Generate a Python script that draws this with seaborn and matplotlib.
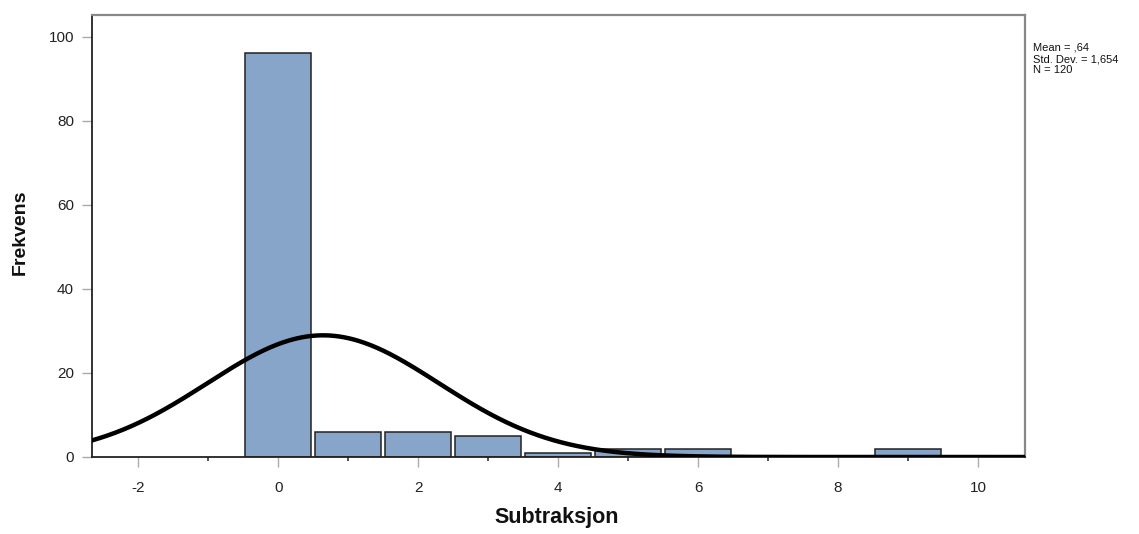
import numpy as np
import pandas as pd
import matplotlib
matplotlib.use("Agg")
import matplotlib.pyplot as plt
import seaborn as sns
from matplotlib.ticker import MultipleLocator

# Frequency table of the subtraction scores
values = [0, 1, 2, 3, 4, 5, 6, 9]
counts = [96, 6, 6, 5, 1, 2, 2, 2]

x_ticks = [-2, 0, 2, 4, 6, 8, 10]
y_ticks = [0, 20, 40, 60, 80, 100]

scores = np.repeat(values, counts)
df = pd.DataFrame({"Subtraksjon": scores})

n = len(scores)
mean = scores.mean()
sd = scores.std(ddof=1)

sns.set_theme(style="white")
plt.rcParams["font.family"] = ["Liberation Sans", "DejaVu Sans"]

W, H = 1139, 534
fig = plt.figure(figsize=(W / 100, H / 100), dpi=100)
ax = fig.add_axes([92 / W, 1 - 457 / H, (1025 - 92) / W, (457 - 14.7) / H])

xlim = (-2.66, 10.67)
bins = np.arange(-0.5, 10.5 + 1, 1)
sns.histplot(data=df, x="Subtraksjon", bins=bins, shrink=0.95, stat="count",
             color="#87A5C9", edgecolor="#222222", linewidth=1.1, alpha=1,
             ax=ax, zorder=2)

# Fitted normal curve, scaled to counts (bin width 1)
grid = np.linspace(xlim[0], xlim[1], 600)
dens = n * np.exp(-0.5 * ((grid - mean) / sd) ** 2) / (sd * np.sqrt(2 * np.pi))
sns.lineplot(x=grid, y=dens, color="black", linewidth=3.2, ax=ax, zorder=3)

ax.set_xlim(*xlim)
ax.set_ylim(0, 105.2)
ax.set_xticks(x_ticks)
ax.set_xticklabels([str(t) for t in x_ticks])
ax.set_yticks(y_ticks)
ax.xaxis.set_minor_locator(MultipleLocator(1))

ax.tick_params(axis="x", which="major", direction="out", length=7, width=1,
               color="#aaaaaa", pad=10, labelsize=11, labelcolor="#222222",
               bottom=True)
ax.tick_params(axis="x", which="minor", direction="out", length=3, width=1.2,
               color="#333333", bottom=True)
ax.tick_params(axis="y", which="major", direction="out", length=7, width=1,
               color="#aaaaaa", pad=6, labelsize=11, labelcolor="#222222",
               left=True)

for side in ("left", "bottom"):
    ax.spines[side].set_color("#222222")
    ax.spines[side].set_linewidth(1.3)
for side in ("top", "right"):
    ax.spines[side].set_visible(True)
    ax.spines[side].set_color("#888888")
    ax.spines[side].set_linewidth(1.6)

ax.set_xlabel("")
ax.set_ylabel("")
fig.text(557 / W, 1 - 517 / H, "Subtraksjon", fontsize=15.5, fontweight="bold",
         ha="center", va="center", color="#111111")
fig.text(20 / W, 1 - 232 / H, "Frekvens", fontsize=14, fontweight="bold",
         ha="center", va="center", rotation=90, color="#111111")

mean_txt = f"{mean:.2f}".replace("0.", ",", 1) if mean < 1 else f"{mean:.2f}".replace(".", ",")
sd_txt = f"{sd:.3f}".replace(".", ",")
stats = f"Mean = {mean_txt}\nStd. Dev. = {sd_txt}\nN = {n}"
fig.text(1033 / W, 1 - 43 / H, stats, fontsize=8, va="top", ha="left",
         linespacing=1.15, color="#111111")

fig.savefig("out.png", dpi=100)
